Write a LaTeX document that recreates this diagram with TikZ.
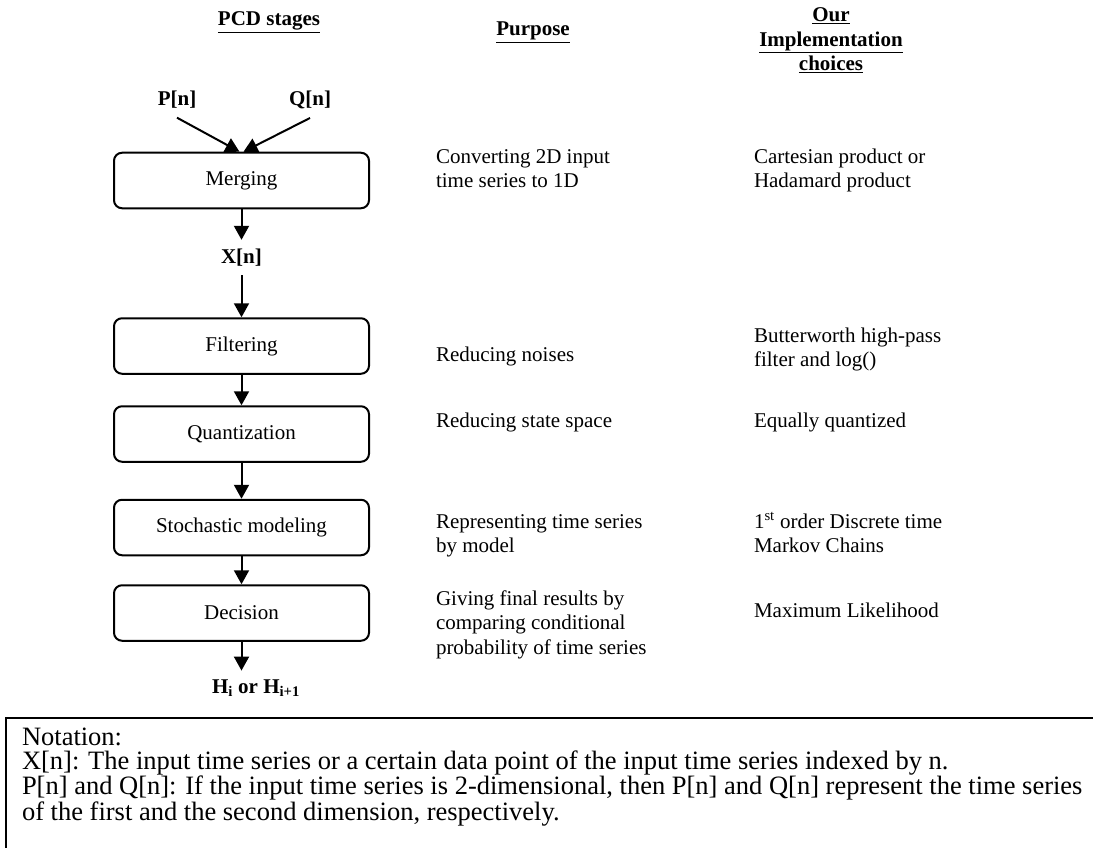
\documentclass[tikz,border=0pt]{standalone}
\usepackage{fontspec}
\setmainfont{Liberation Serif}
\usetikzlibrary{arrows.meta}
\begin{document}
\begin{tikzpicture}[x=1pt,y=-1pt,>={Triangle[length=14pt,width=15pt]},line width=2pt,
  stage/.style={draw,rounded corners=8pt,minimum width=255pt,minimum height=55.5pt,inner sep=0pt,font=\fontsize{21}{24.5}\selectfont},
  sig/.style={inner sep=8pt,font=\fontsize{21}{24.5}\selectfont\bfseries},
  desc/.style={anchor=base west,align=left,inner sep=0pt,font=\fontsize{21}{24.5}\selectfont},
  head/.style={anchor=base,align=center,inner sep=0pt,font=\fontsize{21}{24.5}\selectfont\bfseries}]
\path[use as bounding box] (0,0) rectangle (1093,848);
\clip (0,0) rectangle (1093,848);
\node[head] (hstage) at (269,26) {\underline{PCD stages}};
\node[head] (hpurp) at (533,36) {\underline{Purpose}};
\node[head] (hchoice) at (831,71) {\underline{Our}\\\underline{Implementation}\\\underline{choices}};
\node[stage] (merge) at (241.5,180.5) {Merging};
\node[stage] (filt) at (241.5,346) {Filtering};
\node[stage] (quant) at (241.5,434) {Quantization};
\node[stage] (model) at (241.5,527.5) {Stochastic modeling};
\node[stage] (dec) at (241.5,613) {Decision};
\node[sig] (p) at (177,100) {P[n]};
\node[sig] (q) at (310,100) {Q[n]};
\node[sig] (x) at (241.5,257.5) {X[n]};
\node[sig] (h) at (256,688) {H\textsubscript{i} or H\textsubscript{i+1}};
\draw[->] (p.south) -- ([xshift=-2pt]merge.north);
\draw[->] (q.south) -- ([xshift=2pt]merge.north);
\draw[->] (merge) -- (x);
\draw[->] (x) -- (filt);
\draw[->] (filt) -- (quant);
\draw[->] (quant) -- (model);
\draw[->] (model) -- (dec);
\draw[->] (dec) -- (dec.south |- h.north);
\node[desc] (pmerge) at (435,187.5) {Converting 2D input\\time series to 1D};
\node[desc] (pfilt) at (435,361) {Reducing noises};
\node[desc] (pquant) at (435,427) {Reducing state space};
\node[desc] (pmodel) at (435,552.5) {Representing time series\\by model};
\node[desc] (pdec) at (435,654) {Giving final results by\\comparing conditional\\probability of time series};
\node[desc] (cmerge) at (753,187.5) {Cartesian product or\\Hadamard product};
\node[desc] (cfilt) at (753,366.5) {Butterworth high-pass\\filter and log()};
\node[desc] (cquant) at (753,427) {Equally quantized};
\node[desc] (cmodel) at (753,552.5) {1\textsuperscript{st} order Discrete time\\Markov Chains};
\node[desc] (cdec) at (753,617) {Maximum Likelihood};
\draw (6,718) rectangle (1110,870);
\node[anchor=base west,align=left,inner sep=0pt,font=\fontsize{26.5}{24}\selectfont] (note) at (21,820) {Notation:\\X[n]: The input time series or a certain data point of the input time series indexed by n.\\P[n] and Q[n]: If the input time series is 2-dimensional, then P[n] and Q[n] represent the time series\\of the first and the second dimension, respectively.};
\end{tikzpicture}
\end{document}
